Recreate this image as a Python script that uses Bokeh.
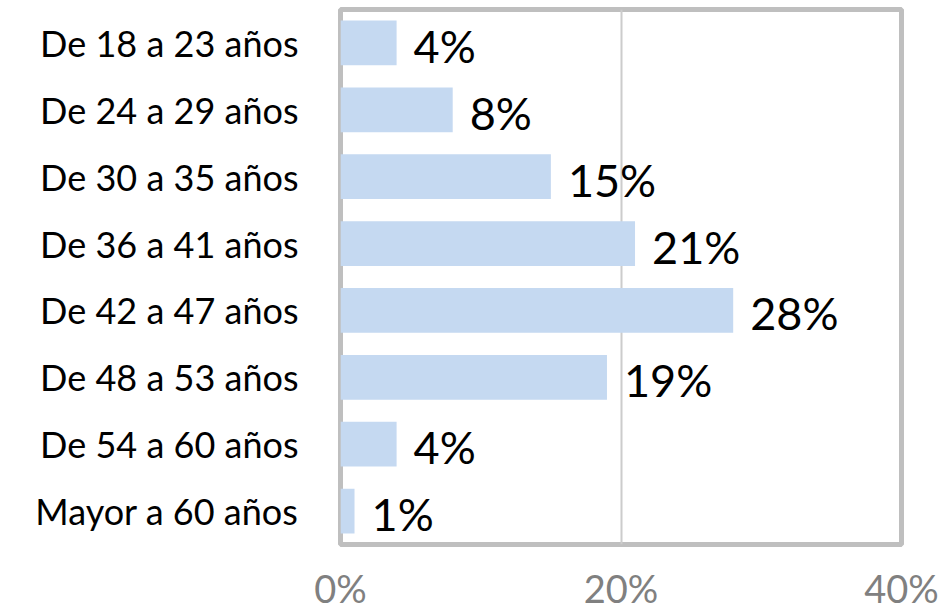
from bokeh.plotting import figure
from bokeh.models import ColumnDataSource, FixedTicker, NumeralTickFormatter, Range1d, FactorRange
from bokeh.core.properties import value
from bokeh.embed import file_html
from bokeh.resources import INLINE

categories = ["De 18 a 23 años", "De 24 a 29 años", "De 30 a 35 años", "De 36 a 41 años",
              "De 42 a 47 años", "De 48 a 53 años", "De 54 a 60 años", "Mayor a 60 años"]
values = [0.04, 0.08, 0.15, 0.21, 0.28, 0.19, 0.04, 0.01]
value_labels = ["4%", "8%", "15%", "21%", "28%", "19%", "4%", "1%"]
x_ticks = [0.0, 0.2, 0.4]

source = ColumnDataSource(dict(cat=categories, val=values, lab=value_labels))

p = figure(width=940, height=613, output_backend="svg", toolbar_location=None,
           y_range=FactorRange(*list(reversed(categories))), x_range=Range1d(0, 0.40),
           min_border_left=340, min_border_right=39, min_border_top=9, min_border_bottom=68)

p.hbar(y="cat", right="val", left=0, height=0.67, source=source,
       fill_color="#C5D9F1", line_color=None)

p.text(x="val", y="cat", text="lab", source=source, text_font=value("Lato"),
       text_font_size="45px", text_color="#000000", text_align="left",
       text_baseline="middle", x_offset=17, y_offset=3)

p.outline_line_color = "#BFBFBF"
p.outline_line_width = 5

p.xaxis.ticker = FixedTicker(ticks=x_ticks)
p.xaxis.formatter = NumeralTickFormatter(format="0%")
p.xaxis.axis_line_color = None
p.xaxis.major_tick_line_color = None
p.xaxis.minor_tick_line_color = None
p.xaxis.major_label_text_font = "Lato"
p.xaxis.major_label_text_font_size = "38px"
p.xaxis.major_label_text_color = "#808080"
p.xaxis.major_label_standoff = 14

p.yaxis.axis_line_color = None
p.yaxis.major_tick_line_color = None
p.yaxis.minor_tick_line_color = None
p.yaxis.major_label_text_font = "Lato"
p.yaxis.major_label_text_font_size = "36px"
p.yaxis.major_label_text_color = "#000000"
p.yaxis.major_label_standoff = 36

p.xgrid.grid_line_color = "#CCCCCC"
p.xgrid.grid_line_width = 2
p.ygrid.grid_line_color = None

open("out.html", "w").write(file_html(p, INLINE))
